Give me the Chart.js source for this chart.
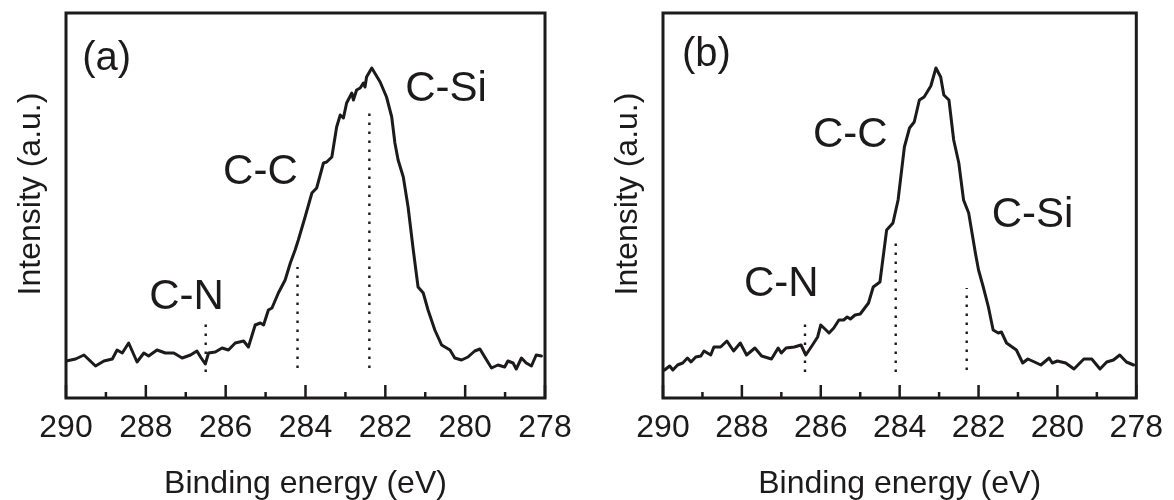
<!DOCTYPE html>
<html>
<head>
<meta charset="utf-8">
<script src="https://cdn.jsdelivr.net/npm/chart.js@4.4.0/dist/chart.umd.min.js"></script>
<style>
html, body { margin: 0; padding: 0; background: #fff; }
#wrap { position: relative; width: 1174px; height: 500px; }
.panel { position: absolute; top: 0; width: 587px; height: 500px; }
</style>
</head>
<body>
<div id="wrap">
  <div class="panel" style="left:0"><canvas id="chartA" width="587" height="500"></canvas></div>
  <div class="panel" style="left:587px"><canvas id="chartB" width="587" height="500"></canvas></div>
</div>
<script>
// tick values (binding energy, eV)
const majorTicks = [290, 288, 286, 284, 282, 280, 278];
const minorTicks = [289, 287, 285, 283, 281, 279];

const peakLabels = ['C-N', 'C-C', 'C-Si'];

// panel (a)
const energyA = [290.0, 289.76, 289.55, 289.26, 289.05, 288.84, 288.72, 288.59, 288.43, 288.22,
  288.05, 287.93, 287.72, 287.51, 287.30, 287.09, 286.88, 286.72, 286.63, 286.51,
  286.43, 286.26, 286.09, 285.93, 285.76, 285.55, 285.43, 285.26, 285.13, 285.05,
  284.93, 284.84, 284.68, 284.51, 284.38, 284.26, 284.18, 284.01, 283.84, 283.72,
  283.55, 283.47, 283.34, 283.22, 283.13, 283.05, 282.97, 282.84, 282.80, 282.72,
  282.63, 282.55, 282.51, 282.47, 282.34, 282.13, 281.97, 281.84, 281.76, 281.68,
  281.55, 281.43, 281.30, 281.18, 281.05, 280.93, 280.76, 280.59, 280.38, 280.26,
  280.09, 279.93, 279.76, 279.63, 279.51, 279.34, 279.18, 279.01, 278.93, 278.80,
  278.72, 278.59, 278.47, 278.34, 278.22, 278.09];
const intensityA = [37, 39, 43, 32, 37, 39, 48, 45, 55, 36,
  45, 42, 48, 45, 45, 40, 43, 47, 41, 34,
  45, 46, 50, 48, 55, 57, 51, 73, 75, 73,
  88, 90, 105, 118, 135, 148, 158, 181, 205, 210,
  235, 236, 241, 271, 283, 280, 295, 305, 298, 308,
  310, 315, 311, 321, 330, 316, 301, 281, 255, 238,
  221, 191, 148, 111, 105, 88, 68, 53, 48, 40,
  38, 41, 47, 49, 41, 30, 33, 31, 37, 35,
  29, 40, 35, 32, 43, 42];
const peakEnergyA = [286.5, 284.2, 282.4];
const peakTopA = [78, 131, 290];
const peakBottomA = [26, 30, 30];

// panel (b)
const energyB = [289.96, 289.83, 289.75, 289.63, 289.5, 289.38, 289.29, 289.17, 289.04, 288.96,
  288.79, 288.71, 288.54, 288.38, 288.21, 288.04, 287.88, 287.67, 287.5, 287.25,
  287.08, 287.0, 286.88, 286.67, 286.5, 286.38, 286.21, 286.08, 286.0, 285.92,
  285.79, 285.67, 285.54, 285.42, 285.33, 285.25, 285.13, 285.0, 284.79, 284.67,
  284.5, 284.33, 284.17, 284.04, 283.88, 283.75, 283.63, 283.5, 283.38, 283.21,
  283.08, 282.96, 282.88, 282.75, 282.63, 282.5, 282.38, 282.25, 282.08, 282.0,
  281.88, 281.75, 281.63, 281.5, 281.42, 281.29, 281.04, 280.88, 280.75, 280.58,
  280.42, 280.21, 280.13, 280.0, 279.79, 279.58, 279.33, 279.13, 278.92, 278.75,
  278.58, 278.42, 278.25, 278.07];
const intensityB = [28, 32, 28, 33, 35, 40, 36, 41, 42, 47,
  43, 51, 51, 57, 47, 55, 43, 50, 42, 39,
  50, 45, 50, 51, 53, 43, 53, 61, 73, 70,
  65, 70, 78, 78, 81, 79, 83, 84, 95, 111,
  116, 168, 175, 198, 251, 270, 276, 298, 301, 312,
  330, 321, 303, 298, 258, 235, 198, 185, 145, 128,
  111, 91, 68, 65, 66, 55, 48, 35, 39, 36,
  33, 40, 35, 37, 35, 29, 39, 39, 29, 36,
  38, 43, 36, 33];
const peakEnergyB = [286.4, 284.1, 282.3];
const peakTopB = [76, 158, 110];
const peakBottomB = [26, 26, 28];

const FONT = '"Liberation Sans", Arial, Helvetica, sans-serif';
const INK = '#1c1a1b';

const framePlugin = {
  id: 'frame',
  afterDatasetsDraw(chart, args, opts) {
    const ctx = chart.ctx;
    const { left, top, right, bottom } = chart.chartArea;
    const xs = chart.scales.x, ys = chart.scales.y;
    ctx.save();
    ctx.strokeStyle = INK;
    // inward ticks
    ctx.lineWidth = 2.5;
    majorTicks.forEach(v => {
      const px = xs.getPixelForValue(v);
      ctx.beginPath(); ctx.moveTo(px, bottom); ctx.lineTo(px, bottom - 13); ctx.stroke();
    });
    minorTicks.forEach(v => {
      const px = xs.getPixelForValue(v);
      ctx.beginPath(); ctx.moveTo(px, bottom); ctx.lineTo(px, bottom - 6); ctx.stroke();
    });
    ctx.lineWidth = 3;
    ctx.strokeRect(left, top, right - left, bottom - top);

    // texts
    ctx.fillStyle = INK;
    ctx.textAlign = 'center';
    ctx.textBaseline = 'middle';
    ctx.font = '40px ' + FONT;
    ctx.fillText(opts.panel[0], xs.getPixelForValue(opts.panel[1]), ys.getPixelForValue(opts.panel[2]));
    ctx.font = '42px ' + FONT;
    peakLabels.forEach((t, i) => {
      const p = opts.labelPos[i];
      ctx.fillText(t, xs.getPixelForValue(p[0]), ys.getPixelForValue(p[1]));
    });
    // y axis title
    ctx.font = '32px ' + FONT;
    ctx.translate(left - 35, 194);
    ctx.rotate(-Math.PI / 2);
    ctx.fillText('Intensity (a.u.)', 0, 0);
    ctx.restore();
  }
};

function makeChart(id, energy, intensity, peakE, peakTop, peakBottom, frameOpts, yWidth, padRight) {
  const datasets = [{
    data: energy.map((e, i) => ({ x: e, y: intensity[i] })),
    borderColor: INK,
    borderWidth: 3,
    borderJoinStyle: 'round',
    borderCapStyle: 'round',
    pointRadius: 0,
    tension: 0
  }];
  peakE.forEach((e, i) => {
    datasets.push({
      data: [{ x: e, y: peakBottom[i] }, { x: e, y: peakTop[i] }],
      borderColor: INK,
      borderWidth: 2.4,
      borderDash: [2.5, 6.5],
      pointRadius: 0
    });
  });
  return new Chart(document.getElementById(id), {
    type: 'line',
    data: { datasets },
    plugins: [framePlugin],
    options: {
      responsive: false,
      animation: false,
      layout: { padding: { left: 0, right: padRight, top: 13, bottom: 0 } },
      plugins: {
        legend: { display: false },
        tooltip: { enabled: false },
        frame: frameOpts
      },
      scales: {
        x: {
          type: 'linear',
          reverse: true,
          min: 278,
          max: 290,
          grid: { display: false, drawTicks: false },
          border: { display: false },
          ticks: {
            stepSize: 2,
            padding: 11,
            color: INK,
            font: { family: FONT, size: 32 },
            callback: v => String(v)
          },
          title: {
            display: true,
            text: 'Binding energy (eV)',
            color: INK,
            font: { family: FONT, size: 32, lineHeight: 1 },
            padding: { top: 0, bottom: 0 }
          },
          afterFit: s => { s.height = 102; }
        },
        y: {
          min: 0,
          max: 385,
          grid: { display: false, drawTicks: false },
          border: { display: false },
          ticks: { display: false },
          afterFit: s => { s.width = yWidth; }
        }
      }
    }
  });
}

makeChart('chartA', energyA, intensityA, peakEnergyA, peakTopA, peakBottomA, {
  panel: ['(a)', 288.98, 339],
  labelPos: [[286.98, 101], [285.13, 226], [280.48, 309]]
}, 66, 42);

makeChart('chartB', energyB, intensityB, peakEnergyB, peakTopB, peakBottomB, {
  panel: ['(b)', 288.9, 343],
  labelPos: [[287.0, 114], [285.25, 263], [280.63, 183]]
}, 76, 31);
</script>
</body>
</html>
